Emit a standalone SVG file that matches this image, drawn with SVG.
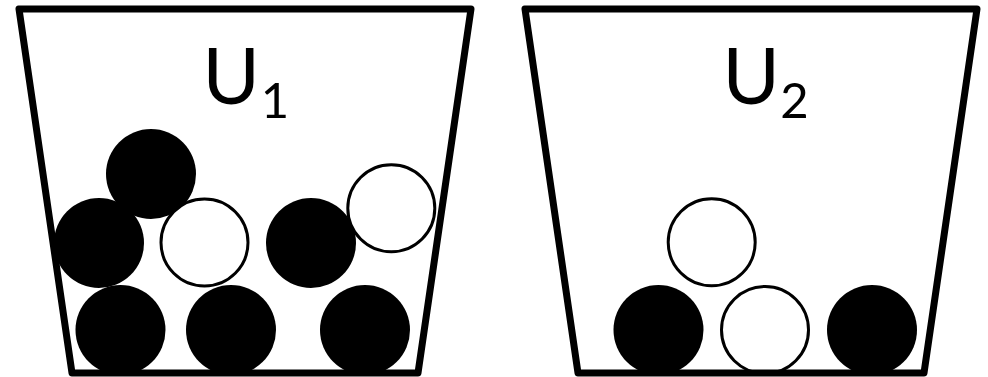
<svg xmlns="http://www.w3.org/2000/svg" width="988" height="377" viewBox="0 0 988 377">
<style>
.urn{fill:none;stroke:#000;stroke-width:7;stroke-linejoin:round}
.b{fill:#000}
.w{fill:#fff;stroke:#000;stroke-width:3}
.lbl{font-family:Lato,"Open Sans",sans-serif;fill:#000;text-anchor:middle}
.big{font-size:78px}
.sub{font-size:49px}
</style>
<rect width="988" height="377" fill="#fff"/>
<g id="urn1">
<circle class="b" cx="151" cy="174" r="45"/>
<circle class="b" cx="99" cy="243" r="45"/>
<circle class="b" cx="311" cy="243" r="45"/>
<circle class="b" cx="120.5" cy="330" r="45"/>
<circle class="b" cx="231" cy="330" r="45"/>
<circle class="b" cx="365" cy="330" r="45"/>
<circle class="w" cx="204.5" cy="242.5" r="43.5"/>
<circle class="w" cx="391.3" cy="208.3" r="43.5"/>
<path class="urn" d="M19,9 L471,9 L418,373 L72,373 Z"/>
<text class="lbl big" x="231.3" y="103.5">U</text>
<text class="lbl sub" x="275" y="117.5">1</text>
</g>
<g id="urn2">
<circle class="b" cx="658.5" cy="330" r="45"/>
<circle class="b" cx="872" cy="330" r="45"/>
<circle class="w" cx="711.7" cy="242.3" r="43.5"/>
<circle class="w" cx="765" cy="330" r="43.5"/>
<path class="urn" d="M525,9 L977,9 L924,373 L578,373 Z"/>
<text class="lbl big" x="751.3" y="103.5">U</text>
<text class="lbl sub" x="794.4" y="117.5">2</text>
</g>
<g id="connectors"/>
</svg>
